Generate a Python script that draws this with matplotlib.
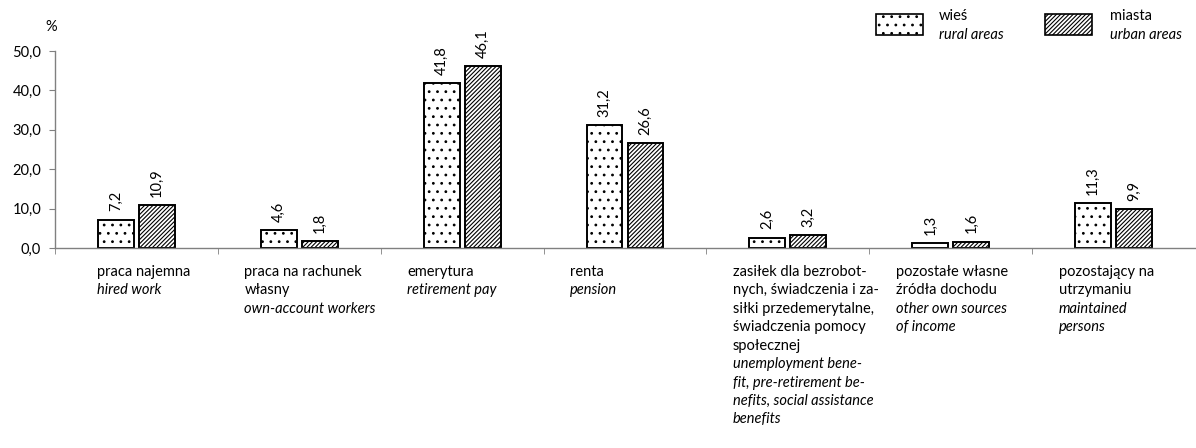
import matplotlib.pyplot as plt
from matplotlib.patches import Rectangle
from matplotlib.ticker import FuncFormatter, FixedLocator

plt.rcParams['font.family'] = ['Lato', 'DejaVu Sans']
plt.rcParams['hatch.color'] = '#333333'
plt.rcParams['hatch.linewidth'] = 0.8

categories_pl = [
    ["praca najemna"],
    ["praca na rachunek", "własny"],
    ["emerytura"],
    ["renta"],
    ["zasiłek dla bezrobot-", "nych, świadczenia i za-", "siłki przedemerytalne,",
     "świadczenia pomocy", "społecznej"],
    ["pozostałe własne", "źródła dochodu"],
    ["pozostający na", "utrzymaniu"],
]
categories_en = [
    ["hired work"],
    ["own-account workers"],
    ["retirement pay"],
    ["pension"],
    ["unemployment bene-", "fit, pre-retirement be-", "nefits, social assistance",
     "benefits"],
    ["other own sources", "of income"],
    ["maintained", "persons"],
]
rural = [7.2, 4.6, 41.8, 31.2, 2.6, 1.3, 11.3]
urban = [10.9, 1.8, 46.1, 26.6, 3.2, 1.6, 9.9]
series_pl = ["wieś", "miasta"]
series_en = ["rural areas", "urban areas"]
yticks = [0, 10, 20, 30, 40, 50]

fig = plt.figure(figsize=(11.96, 4.48), dpi=100)
ax = fig.add_axes([55 / 1196, 200 / 448, 1140 / 1196, 197 / 448])

n = len(rural)
w = 0.22
off = 0.126
xs = list(range(n))
ax.bar([x - off for x in xs], rural, w, color='white', edgecolor='black',
       linewidth=1.4, hatch='..')
ax.bar([x + off for x in xs], urban, w, color='white', edgecolor='black',
       linewidth=1.4, hatch='////////')

for i in range(n):
    for x, v in ((i - off, rural[i]), (i + off, urban[i])):
        ax.annotate(f"{v:.1f}".replace('.', ','), (x, v), xytext=(0, 6),
                    textcoords='offset points', rotation=90, ha='center',
                    va='bottom', fontsize=10.5)

ax.set_xlim(-0.5, n - 0.5)
ax.set_ylim(0, 50)
ax.set_yticks(yticks)
ax.yaxis.set_major_formatter(FuncFormatter(lambda v, p: f"{v:.1f}".replace('.', ',')))
ax.set_xticks([])
ax.xaxis.set_minor_locator(FixedLocator([i + 0.5 for i in range(n - 1)] + [-0.5]))
ax.tick_params(axis='x', which='minor', length=4, color='#808080', direction='out')
ax.tick_params(axis='y', length=4, color='#808080', labelsize=10.5, pad=6)
for s in ('top', 'right'):
    ax.spines[s].set_visible(False)
for s in ('left', 'bottom'):
    ax.spines[s].set_color('#808080')
    ax.spines[s].set_linewidth(1.0)

# category labels under the axis
label_dx = [-39, -55, -55, -55, -55, -55, -55]
line_h = 13.3
for i in range(n):
    lines = [(t, 'normal') for t in categories_pl[i]] + \
            [(t, 'italic') for t in categories_en[i]]
    for k, (t, style) in enumerate(lines):
        ax.annotate(t, (i, 0), xycoords=('data', 'axes fraction'),
                    xytext=(label_dx[i] * 0.72, -12 - k * line_h),
                    textcoords='offset points', ha='left', va='top',
                    fontsize=10.5, style=style)

fig.text(45 / 1196, 1 - 27 / 448, "%", fontsize=10.5, va='center', ha='left')

# legend
hatches = ['..', '////////']
patch_x = [876, 1045]
text_x = [939, 1110]
for j in range(2):
    r = Rectangle((patch_x[j] / 1196, 1 - 35 / 448), 47 / 1196, 21 / 448,
                  transform=fig.transFigure, facecolor='white', edgecolor='black',
                  linewidth=1.2, hatch=hatches[j])
    fig.add_artist(r)
    fig.text(text_x[j] / 1196, 1 - 16 / 448, series_pl[j], fontsize=10.5, va='center')
    fig.text(text_x[j] / 1196, 1 - 35 / 448, series_en[j], fontsize=10.5,
             va='center', style='italic')

fig.savefig("out.png", dpi=100)
